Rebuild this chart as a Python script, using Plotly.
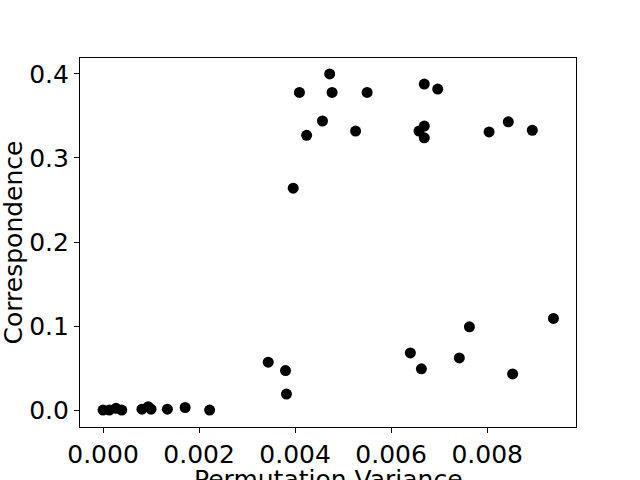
import plotly.graph_objs as go

# permutation variance vs correspondence
perm_variance = [
    0.0000, 0.00013, 0.00027, 0.00039, 0.00081, 0.00094, 0.00100, 0.00134, 0.00171, 0.00222,
    0.00472, 0.00409, 0.00477, 0.00550, 0.00669, 0.00697, 0.00457, 0.00424, 0.00526,
    0.00669, 0.00658, 0.00669, 0.00844, 0.00804, 0.00894, 0.00396,
    0.00344, 0.00380, 0.00382, 0.00640, 0.00663, 0.00742, 0.00763, 0.00853, 0.00938,
]
correspondence = [
    0.000, 0.000, 0.002, 0.000, 0.001, 0.004, 0.001, 0.001, 0.003, 0.000,
    0.400, 0.378, 0.378, 0.378, 0.388, 0.382, 0.344, 0.327, 0.332,
    0.338, 0.332, 0.324, 0.343, 0.331, 0.333, 0.264,
    0.057, 0.047, 0.019, 0.068, 0.049, 0.062, 0.099, 0.043, 0.109,
]
x_title = 'Permutation Variance'
y_title = 'Correspondence'

fig = go.Figure()
fig.add_trace(go.Scatter(
    x=perm_variance,
    y=correspondence,
    mode='markers',
    marker=dict(color='black', size=11, line=dict(width=0))
))

axis_style = dict(
    showline=True, mirror=True, linecolor='black', linewidth=1.2,
    ticks='outside', ticklen=5, tickcolor='black', tickwidth=1.2,
    showgrid=False, zeroline=False,
    tickfont=dict(size=25, color='black'),
)
fig.update_layout(
    width=640, height=480,
    margin=dict(l=80, r=64, t=58, b=53),
    paper_bgcolor='white', plot_bgcolor='white',
    font=dict(family='DejaVu Sans', color='black'),
    showlegend=False,
    xaxis=dict(range=[-0.00048, 0.00985], tick0=0, dtick=0.002, tickformat='.3f',
               automargin=False, **axis_style),
    yaxis=dict(range=[-0.0202, 0.419], tick0=0, dtick=0.1, tickformat='.1f',
               automargin=False, **axis_style),
)

# axis titles as annotations so they sit where matplotlib puts them
fig.add_annotation(text=x_title, xref='paper', yref='paper', x=0.5, y=0,
                   xanchor='center', yanchor='top', yshift=-36,
                   showarrow=False, font=dict(size=25))
fig.add_annotation(text=y_title, xref='paper', yref='paper', x=0, y=0.5,
                   xanchor='center', yanchor='middle', xshift=-67, textangle=-90,
                   showarrow=False, font=dict(size=25))

# drop the default 8px body margin so the figure starts at the window corner
fig.write_html("out.html", config={'displayModeBar': False},
               post_script="document.body.style.margin='0px';")
